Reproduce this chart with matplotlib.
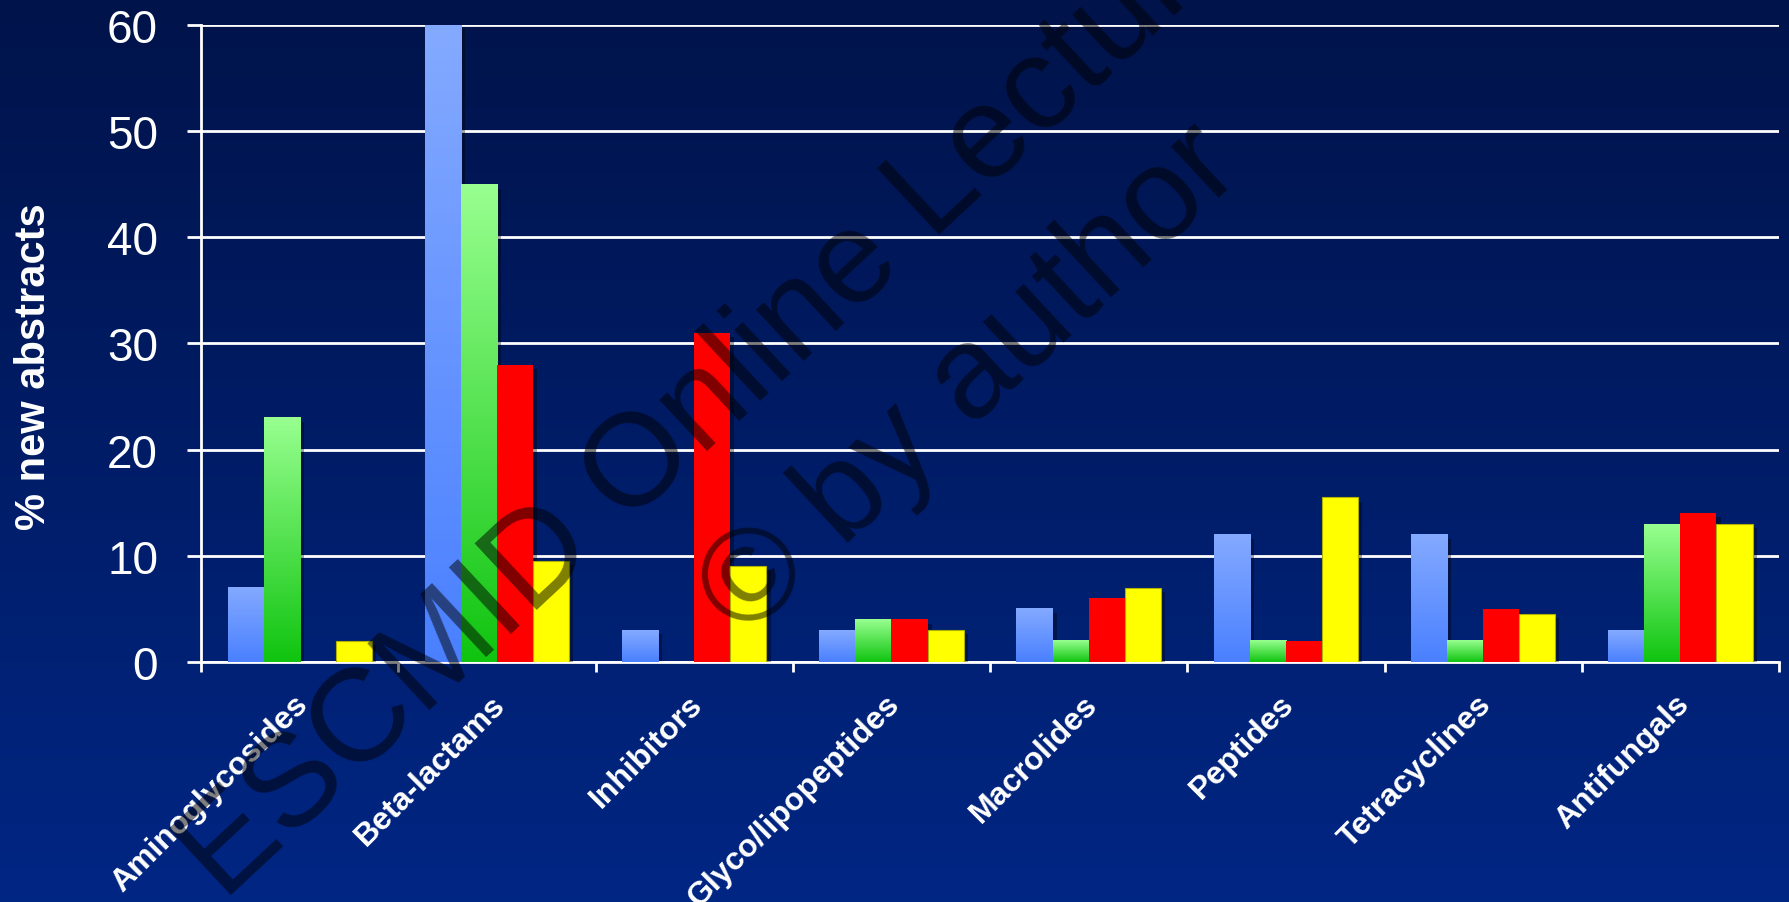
import numpy as np
import matplotlib.pyplot as plt
import matplotlib.patheffects as pe
from matplotlib.colors import LinearSegmentedColormap
from matplotlib.transforms import ScaledTranslation

plt.rcParams['font.family'] = ['Liberation Sans', 'DejaVu Sans']

# data
categories = ["Aminoglycosides", "Beta-lactams", "Inhibitors", "Glyco/lipopeptides",
              "Macrolides", "Peptides", "Tetracyclines", "Antifungals"]
blue_vals = [7, 60, 3, 3, 5, 12, 12, 3]
green_vals = [23, 45, 0, 4, 2, 2, 2, 13]
red_vals = [0, 28, 31, 4, 6, 2, 5, 14]
yellow_vals = [2, 9.5, 9, 3, 7, 15.5, 4.5, 13]
y_ticks = [0, 10, 20, 30, 40, 50, 60]

fig = plt.figure(figsize=(17.89, 9.03), dpi=100)

# background gradient, dark navy at top to brighter blue at bottom
bg = fig.add_axes([0, 0, 1, 1], zorder=-10)
bg_cmap = LinearSegmentedColormap.from_list("bg", ["#002684", "#00134A"])
bg.imshow(np.linspace(0, 1, 256).reshape(-1, 1), cmap=bg_cmap, aspect="auto",
          origin="lower", extent=(0, 1, 0, 1))
bg.set_axis_off()

ax = fig.add_axes([0.1124, 0.266, 0.8820, 0.705])
ax.patch.set_alpha(0)

x = np.arange(len(categories)) + 0.5
w = 0.183
shadow = [pe.SimplePatchShadow(offset=(3, -3), shadow_rgbFace="black", alpha=0.35), pe.Normal()]
grad = np.linspace(0, 1, 256).reshape(-1, 1)


def gradient_bars(xs, vals, top, bottom):
    bars = ax.bar(xs, vals, w, color=bottom, zorder=2, path_effects=shadow)
    cmap = LinearSegmentedColormap.from_list("bar", [bottom, top])
    for b in bars:
        if b.get_height() <= 0:
            b.set_visible(False)
            continue
        x0, y0 = b.get_x(), b.get_y()
        ax.imshow(grad, cmap=cmap, origin="lower", aspect="auto", zorder=3,
                  extent=(x0, x0 + b.get_width(), y0, y0 + b.get_height()))


gradient_bars(x - 1.5 * w, blue_vals, "#84AAFF", "#4A80FF")
gradient_bars(x - 0.5 * w, green_vals, "#98FF90", "#10C410")
red = ax.bar(x + 0.5 * w, red_vals, w, color="#FF0000", zorder=3, path_effects=shadow)
yel = ax.bar(x + 1.5 * w, yellow_vals, w, color="#FFFF00", edgecolor="#B0B000",
             linewidth=0.8, zorder=3, path_effects=shadow)
for b in list(red) + list(yel):
    if b.get_height() <= 0:
        b.set_visible(False)

ax.set_xlim(0, len(categories))
ax.set_ylim(0, 60)

# axes styling
for s in ["top", "right"]:
    ax.spines[s].set_visible(False)
for s in ["left", "bottom"]:
    ax.spines[s].set_color("white")
    ax.spines[s].set_linewidth(2)
ax.set_axisbelow(True)
ax.yaxis.grid(True, color="white", linewidth=2)

ax.set_yticks(y_ticks)
ax.tick_params(axis="y", colors="white", labelsize=33, length=10, width=2, pad=21)

ax.set_xticks(np.arange(len(categories) + 1))
ax.set_xticklabels([])
ax.tick_params(axis="x", which="major", colors="white", length=7, width=2)
ax.set_xticks(x, minor=True)
ax.set_xticklabels(categories, minor=True, rotation=45, ha="right", va="center",
                   rotation_mode="anchor", fontsize=23, fontweight="bold", color="white")
ax.tick_params(axis="x", which="minor", length=0, pad=27)
shift = ScaledTranslation(3 / 72, 0, fig.dpi_scale_trans)
for lab in ax.get_xticklabels(minor=True):
    lab.set_transform(lab.get_transform() + shift)

fig.text(0.019, 0.594, "% new abstracts", rotation=90, ha="center", va="center",
         fontsize=30, fontweight="bold", color="white")

# watermark
wm = dict(fontsize=95, color="black", alpha=0.5, rotation=43, ha="center", va="center",
          rotation_mode="anchor", zorder=20)
fig.text(0.490, 0.727, "ESCMID Online Lecture Library", **wm)
fig.text(0.543, 0.577, "\u00a9 by author", **wm)

fig.savefig("out.png", dpi=100)
